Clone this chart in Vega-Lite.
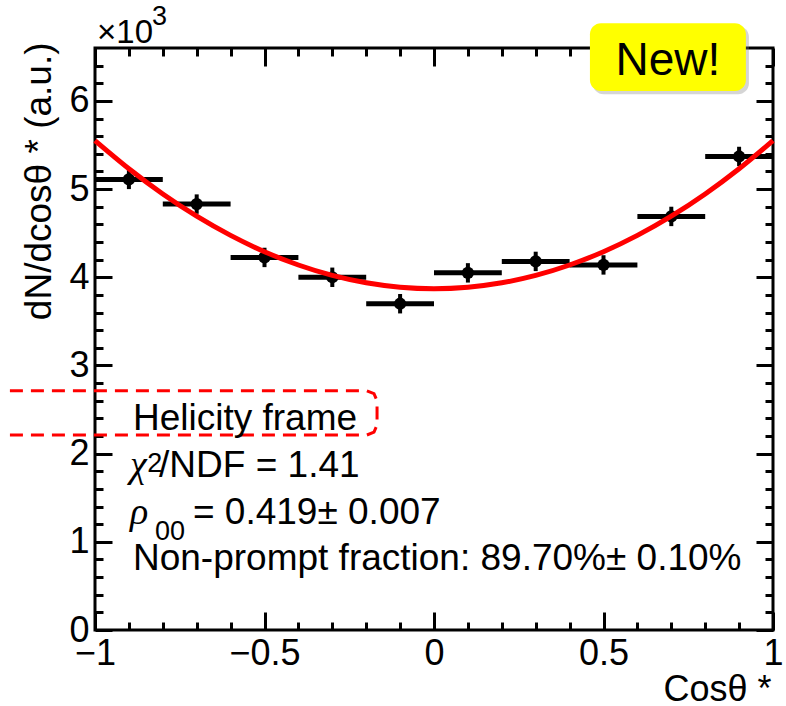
{
  "$schema": "https://vega.github.io/schema/vega-lite/v6.json",
  "width": 678,
  "height": 582,
  "autosize": {"type": "none"},
  "padding": {"left": 95, "top": 48, "right": 13, "bottom": 76},
  "background": "white",
  "config": {
    "view": {"stroke": "black", "strokeWidth": 3},
    "font": "Liberation Sans",
    "axis": {
      "grid": false,
      "domain": false,
      "labelFont": "Liberation Sans",
      "titleFont": "Liberation Sans",
      "tickColor": "black",
      "labelColor": "black",
      "titleColor": "black",
      "tickWidth": 3,
      "titleFontWeight": "normal",
      "labelFlush": false,
      "labelOverlap": false,
      "labelBound": false
    }
  },
  "datasets": {
    "bins": [
      {"x": -0.9, "xlo": -1.0, "xhi": -0.8, "y": 5.11, "ylo": 5.0, "yhi": 5.22},
      {"x": -0.7, "xlo": -0.8, "xhi": -0.6, "y": 4.83, "ylo": 4.72, "yhi": 4.94},
      {"x": -0.5, "xlo": -0.6, "xhi": -0.4, "y": 4.225, "ylo": 4.115, "yhi": 4.335},
      {"x": -0.3, "xlo": -0.4, "xhi": -0.2, "y": 4.0, "ylo": 3.89, "yhi": 4.11},
      {"x": -0.1, "xlo": -0.2, "xhi": 0.0, "y": 3.7, "ylo": 3.59, "yhi": 3.81},
      {"x": 0.1, "xlo": 0.0, "xhi": 0.2, "y": 4.05, "ylo": 3.94, "yhi": 4.16},
      {"x": 0.3, "xlo": 0.2, "xhi": 0.4, "y": 4.18, "ylo": 4.07, "yhi": 4.29},
      {"x": 0.5, "xlo": 0.4, "xhi": 0.6, "y": 4.14, "ylo": 4.03, "yhi": 4.25},
      {"x": 0.7, "xlo": 0.6, "xhi": 0.8, "y": 4.69, "ylo": 4.58, "yhi": 4.8},
      {"x": 0.9, "xlo": 0.8, "xhi": 1.0, "y": 5.37, "ylo": 5.26, "yhi": 5.48}
    ],
    "fit": [
      {"x": -1.0, "y": 5.55}, {"x": -0.9, "y": 5.231}, {"x": -0.8, "y": 4.945},
      {"x": -0.7, "y": 4.693}, {"x": -0.6, "y": 4.475}, {"x": -0.5, "y": 4.29},
      {"x": -0.4, "y": 4.139}, {"x": -0.3, "y": 4.021}, {"x": -0.2, "y": 3.937},
      {"x": -0.1, "y": 3.887}, {"x": 0.0, "y": 3.87}, {"x": 0.1, "y": 3.887},
      {"x": 0.2, "y": 3.937}, {"x": 0.3, "y": 4.021}, {"x": 0.4, "y": 4.139},
      {"x": 0.5, "y": 4.29}, {"x": 0.6, "y": 4.475}, {"x": 0.7, "y": 4.693},
      {"x": 0.8, "y": 4.945}, {"x": 0.9, "y": 5.231}, {"x": 1.0, "y": 5.55}
    ],
    "box": [
      {"i": 1, "x": -1.251, "y": 2.713},
      {"i": 2, "x": -0.198, "y": 2.713},
      {"i": 3, "x": -0.177, "y": 2.68},
      {"i": 4, "x": -0.168, "y": 2.6},
      {"i": 5, "x": -0.168, "y": 2.324},
      {"i": 6, "x": -0.177, "y": 2.244},
      {"i": 7, "x": -0.198, "y": 2.211},
      {"i": 8, "x": -1.251, "y": 2.211}
    ],
    "badge": [{"x": 0.46, "x2": 0.92, "y": 6.882, "y2": 6.111}],
    "badgeShadow": [{"x": 0.468, "x2": 0.929, "y": 6.85, "y2": 6.075}],
    "badgeText": [{"x": 0.69, "y": 6.293, "t": "New!"}],
    "notes": [
      {"x": -0.888, "y": 2.268, "t": "Helicity frame"},
      {"x": -0.811, "y": 1.735, "t": "/NDF = 1.41"},
      {"x": -0.711, "y": 1.207, "t": "= 0.419± 0.007"},
      {"x": -0.888, "y": 0.68, "t": "Non-prompt fraction: 89.70%± 0.10%"}
    ],
    "times": [{"x": -0.994, "y": 6.655, "t": "×10"}],
    "greek": [
      {"x": -0.897, "y": 1.207, "t": "ρ"},
      {"x": -0.897, "y": 1.735, "t": "χ"}
    ],
    "sub": [{"x": -0.823, "y": 1.02, "t": "00"}],
    "sup": [
      {"x": -0.832, "y": 6.859, "t": "3"},
      {"x": -0.846, "y": 1.791, "t": "2"}
    ]
  },
  "resolve": {"axis": {"x": "independent", "y": "independent"}},
  "layer": [
    {
      "data": {"name": "bins"},
      "mark": {"type": "rule", "color": "black", "strokeWidth": 5},
      "encoding": {
        "x": {"field": "xlo", "type": "quantitative", "scale": {"domain": [-1, 1], "nice": false, "zero": false},
          "axis": {"orient": "bottom", "values": [-1, -0.5, 0, 0.5, 1], "format": "~g", "ticks": false,
            "labelFontSize": 36, "labelPadding": 6, "title": "Cosθ *", "titleFontSize": 36,
            "titleX": 676, "titleY": 70, "titleAlign": "right", "titleBaseline": "alphabetic", "titleAngle": 0}},
        "x2": {"field": "xhi"},
        "y": {"field": "y", "type": "quantitative", "scale": {"domain": [0, 6.6], "nice": false, "zero": false},
          "axis": {"orient": "left", "values": [0, 1, 2, 3, 4, 5, 6], "format": "d", "ticks": false,
            "labelFontSize": 36, "labelPadding": 6, "title": "dN/dcosθ * (a.u.)", "titleFontSize": 37,
            "titleX": -45, "titleY": -6, "titleAlign": "right", "titleBaseline": "alphabetic", "titleAngle": 270}}
      }
    },
    {
      "data": {"name": "bins"},
      "mark": {"type": "rule", "color": "black", "strokeWidth": 4},
      "encoding": {
        "x": {"field": "x", "type": "quantitative",
          "axis": {"orient": "bottom", "values": [-1, -0.5, 0, 0.5, 1], "labels": false, "tickSize": -18, "title": null}},
        "y": {"field": "ylo", "type": "quantitative",
          "axis": {"orient": "left", "values": [0, 1, 2, 3, 4, 5, 6], "labels": false, "tickSize": -17, "title": null}},
        "y2": {"field": "yhi"}
      }
    },
    {
      "data": {"name": "bins"},
      "mark": {"type": "circle", "color": "black", "opacity": 1, "size": 150},
      "encoding": {
        "x": {"field": "x", "type": "quantitative",
          "axis": {"orient": "bottom", "values": [-0.9, -0.8, -0.7, -0.6, -0.4, -0.3, -0.2, -0.1, 0.1, 0.2, 0.3, 0.4, 0.6, 0.7, 0.8, 0.9], "labels": false, "tickSize": -8, "title": null}},
        "y": {"field": "y", "type": "quantitative",
          "axis": {"orient": "left", "values": [0.2, 0.4, 0.6, 0.8, 1.2, 1.4, 1.6, 1.8, 2.2, 2.4, 2.6, 2.8, 3.2, 3.4, 3.6, 3.8, 4.2, 4.4, 4.6, 4.8, 5.2, 5.4, 5.6, 5.8, 6.2, 6.4], "labels": false, "tickSize": -8, "title": null}}
      }
    },
    {
      "data": {"name": "fit"},
      "mark": {"type": "line", "color": "#ff0000", "strokeWidth": 5, "interpolate": "monotone"},
      "encoding": {
        "x": {"field": "x", "type": "quantitative",
          "axis": {"orient": "top", "values": [-1, -0.5, 0, 0.5, 1], "labels": false, "tickSize": -18, "title": null}},
        "y": {"field": "y", "type": "quantitative",
          "axis": {"orient": "right", "values": [0, 1, 2, 3, 4, 5, 6], "labels": false, "tickSize": -17, "title": null}}
      }
    },
    {
      "data": {"name": "badgeShadow"},
      "mark": {"type": "rect", "fill": "#888888", "opacity": 0.35, "cornerRadius": 11},
      "encoding": {
        "x": {"field": "x", "type": "quantitative",
          "axis": {"orient": "top", "values": [-0.9, -0.8, -0.7, -0.6, -0.4, -0.3, -0.2, -0.1, 0.1, 0.2, 0.3, 0.4, 0.6, 0.7, 0.8, 0.9], "labels": false, "tickSize": -8, "title": null}},
        "x2": {"field": "x2"},
        "y": {"field": "y", "type": "quantitative",
          "axis": {"orient": "right", "values": [0.2, 0.4, 0.6, 0.8, 1.2, 1.4, 1.6, 1.8, 2.2, 2.4, 2.6, 2.8, 3.2, 3.4, 3.6, 3.8, 4.2, 4.4, 4.6, 4.8, 5.2, 5.4, 5.6, 5.8, 6.2, 6.4], "labels": false, "tickSize": -8, "title": null}},
        "y2": {"field": "y2"}
      }
    },
    {
      "data": {"name": "badge"},
      "mark": {"type": "rect", "fill": "#ffff00", "cornerRadius": 11},
      "encoding": {
        "x": {"field": "x", "type": "quantitative", "axis": null},
        "x2": {"field": "x2"},
        "y": {"field": "y", "type": "quantitative", "axis": null},
        "y2": {"field": "y2"}
      }
    },
    {
      "data": {"name": "badgeText"},
      "mark": {"type": "text", "fontSize": 46, "align": "center", "baseline": "alphabetic", "color": "black", "font": "Liberation Sans"},
      "encoding": {
        "x": {"field": "x", "type": "quantitative", "axis": null},
        "y": {"field": "y", "type": "quantitative", "axis": null},
        "text": {"field": "t"}
      }
    },
    {
      "data": {"name": "box"},
      "mark": {"type": "line", "color": "#ff0000", "strokeWidth": 3, "strokeDash": [13, 8], "interpolate": "linear"},
      "encoding": {
        "x": {"field": "x", "type": "quantitative", "axis": null},
        "y": {"field": "y", "type": "quantitative", "axis": null},
        "order": {"field": "i"}
      }
    },
    {
      "data": {"name": "notes"},
      "mark": {"type": "text", "fontSize": 37, "align": "left", "baseline": "alphabetic", "color": "black", "font": "Liberation Sans"},
      "encoding": {
        "x": {"field": "x", "type": "quantitative", "axis": null},
        "y": {"field": "y", "type": "quantitative", "axis": null},
        "text": {"field": "t"}
      }
    },
    {
      "data": {"name": "times"},
      "mark": {"type": "text", "fontSize": 33, "align": "left", "baseline": "alphabetic", "color": "black", "font": "Liberation Sans"},
      "encoding": {
        "x": {"field": "x", "type": "quantitative", "axis": null},
        "y": {"field": "y", "type": "quantitative", "axis": null},
        "text": {"field": "t"}
      }
    },
    {
      "data": {"name": "greek"},
      "mark": {"type": "text", "fontSize": 38, "align": "left", "baseline": "alphabetic", "color": "black", "font": "Liberation Serif", "fontStyle": "italic"},
      "encoding": {
        "x": {"field": "x", "type": "quantitative", "axis": null},
        "y": {"field": "y", "type": "quantitative", "axis": null},
        "text": {"field": "t"}
      }
    },
    {
      "data": {"name": "sub"},
      "mark": {"type": "text", "fontSize": 27, "align": "left", "baseline": "alphabetic", "color": "black", "font": "Liberation Sans"},
      "encoding": {
        "x": {"field": "x", "type": "quantitative", "axis": null},
        "y": {"field": "y", "type": "quantitative", "axis": null},
        "text": {"field": "t"}
      }
    },
    {
      "data": {"name": "sup"},
      "mark": {"type": "text", "fontSize": 27, "align": "left", "baseline": "alphabetic", "color": "black", "font": "Liberation Sans"},
      "encoding": {
        "x": {"field": "x", "type": "quantitative", "axis": null},
        "y": {"field": "y", "type": "quantitative", "axis": null},
        "text": {"field": "t"}
      }
    }
  ]
}
